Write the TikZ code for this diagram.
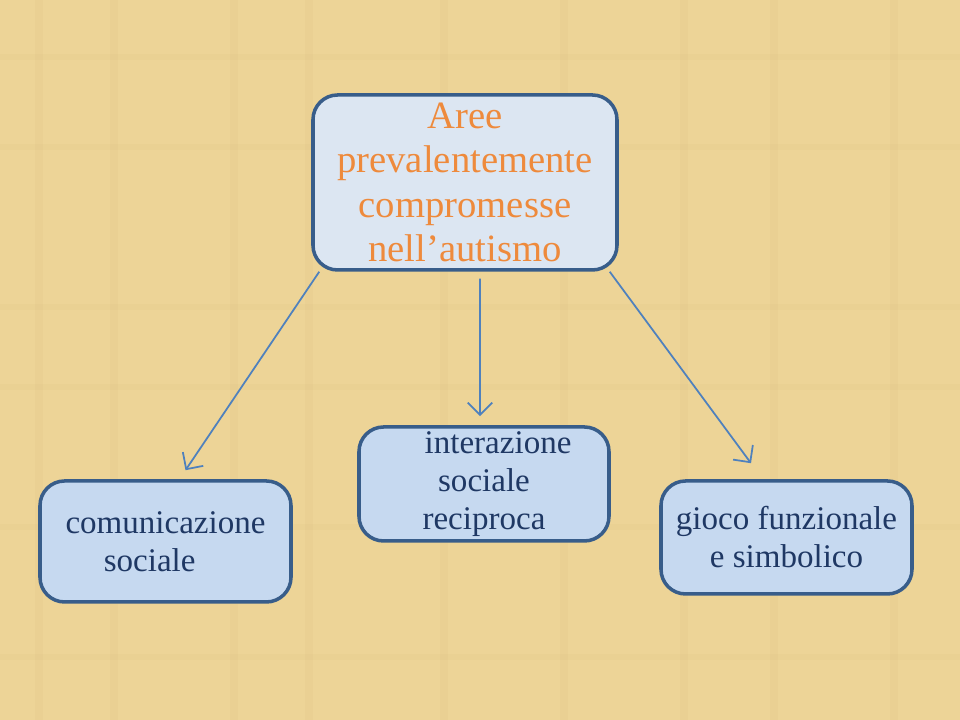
\documentclass[tikz,border=0pt]{standalone}
\usepackage{fontspec}
\setmainfont{Liberation Serif}
\usepackage{tikz}
\usetikzlibrary{arrows.meta}
\definecolor{papyrus}{RGB}{237,212,151}
\definecolor{papyrusdark}{RGB}{214,185,120}
\definecolor{boxline}{RGB}{56,93,138}
\definecolor{boxfill}{RGB}{198,217,240}
\definecolor{topfill}{RGB}{220,230,242}
\definecolor{titleorange}{RGB}{238,138,60}
\definecolor{textblue}{RGB}{31,56,100}
\definecolor{linkblue}{RGB}{79,129,189}
\tikzset{
  area/.style={draw=boxline, line width=1pt, fill=boxfill, rounded corners=7pt,
    inner sep=0pt, align=center, text=textblue,
    font=\fontsize{9.4}{10.8}\selectfont},
  title/.style={area, fill=topfill, text=titleorange,
    font=\fontsize{11}{12.6}\selectfont},
  link/.style={linkblue, line width=0.5pt, -{Straight Barb[length=3.5pt,width=7pt]}}
}
\begin{document}
\begin{tikzpicture}
    % background
    \fill[papyrus] (0,0) rectangle (9.6,7.2);
    \useasboundingbox (0,0) rectangle (9.6,7.2);
    \foreach \x in {0.35,1.1,2.3,3.05,4.4,5.6,6.8,7.7,8.9}
        \fill[papyrusdark, opacity=0.12] (\x,0) rectangle ++(0.08,7.2);
    \foreach \y in {0.6,1.9,3.3,4.1,5.7,6.6}
        \fill[papyrusdark, opacity=0.1] (0,\y) rectangle ++(9.6,0.06);
    % boxes
    \node[title, minimum width=3.04cm, minimum height=1.75cm] (aree) at (4.65,5.375)
        {Aree\\prevalentemente\\compromesse\\nell’autismo};
    \node[area, minimum width=2.51cm, minimum height=1.21cm] (comun) at (1.655,1.785)
        {comunicazione\\sociale\hspace*{9pt}};
    \node[area, minimum width=2.50cm, minimum height=1.14cm] (inter) at (4.84,2.36)
        {\hspace*{8pt}interazione\\sociale\\reciproca};
    \node[area, minimum width=2.51cm, minimum height=1.13cm] (gioco) at (7.865,1.825)
        {gioco funzionale\\e simbolico};
    % links
    \draw[link] ([xshift=0.08cm]aree.south west) -- ([xshift=0.2cm,yshift=0.09cm]comun.north);
    \draw[link] ([xshift=0.15cm,yshift=-0.07cm]aree.south) -- ([xshift=-0.04cm,yshift=0.09cm]inter.north);
    \draw[link] ([xshift=-0.09cm]aree.south east) -- ([xshift=-0.355cm,yshift=0.16cm]gioco.north);
\end{tikzpicture}
\end{document}
